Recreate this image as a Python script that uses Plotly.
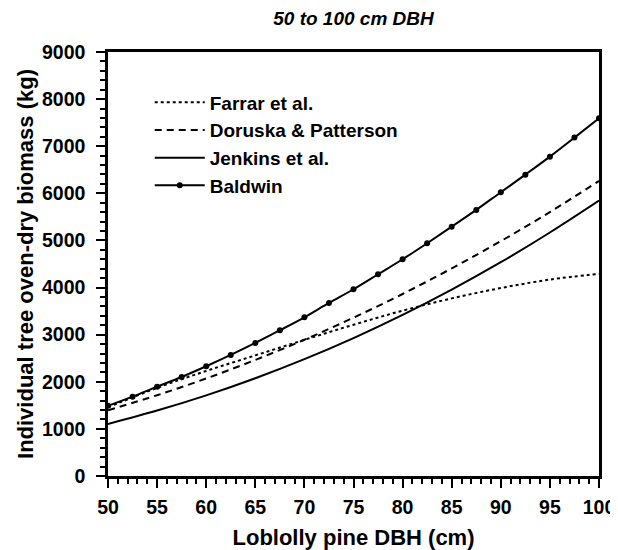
import plotly.graph_objects as go

dbh5 = [50, 55, 60, 65, 70, 75, 80, 85, 90, 95, 100]
dbh_baldwin = [50, 52.5, 55, 57.5, 60, 62.5, 65, 67.5, 70, 72.5, 75, 77.5,
               80, 82.5, 85, 87.5, 90, 92.5, 95, 97.5, 100]

farrar = [1460, 1870, 2230, 2560, 2890, 3210, 3510, 3770, 3990, 4170, 4290]
doruska = [1395, 1715, 2070, 2464, 2892, 3361, 3863, 4407, 4985, 5602, 6263]
jenkins = [1104, 1389, 1711, 2075, 2480, 2927, 3419, 3956, 4538, 5169, 5846]
baldwin = [1490, 1684, 1896, 2102, 2329, 2569, 2824, 3093, 3369, 3673, 3964,
           4282, 4601, 4941, 5293, 5648, 6023, 6397, 6779, 7183, 7594]

FONT = "Liberation Sans, Arial, sans-serif"

fig = go.Figure()
fig.add_trace(go.Scatter(x=dbh5, y=farrar, mode="lines", name="Farrar et al.",
                         line=dict(color="black", width=2, dash="dot", shape="spline")))
fig.add_trace(go.Scatter(x=dbh5, y=doruska, mode="lines", name="Doruska & Patterson",
                         line=dict(color="black", width=2, dash="7px,5px", shape="spline")))
fig.add_trace(go.Scatter(x=dbh5, y=jenkins, mode="lines", name="Jenkins et al.",
                         line=dict(color="black", width=2, shape="spline")))
fig.add_trace(go.Scatter(x=dbh_baldwin, y=baldwin, mode="lines+markers", name="Baldwin",
                         line=dict(color="black", width=2, shape="spline"),
                         marker=dict(color="black", size=6)))

axis_common = dict(
    showline=True, linecolor="black", linewidth=2.5, mirror=True,
    ticks="outside", tickcolor="black", tickwidth=2, ticklen=9,
    showgrid=False, zeroline=False, automargin=False,
    tickfont=dict(family=FONT, size=19.5, color="black", weight="bold"),
)

fig.update_xaxes(range=[50, 100], tick0=50, dtick=5, ticklabelstandoff=3,
                 minor=dict(dtick=1, ticks="outside", ticklen=5, tickwidth=2, tickcolor="black"),
                 title=dict(text="Loblolly pine DBH (cm)", standoff=15,
                            font=dict(family=FONT, size=22, color="black", weight="bold")),
                 **axis_common)
fig.update_yaxes(range=[0, 9000], tick0=0, dtick=1000, ticklabelstandoff=7,
                 minor=dict(dtick=200, ticks="outside", ticklen=5, tickwidth=2, tickcolor="black"),
                 title=dict(text="Individual tree oven-dry biomass (kg)", standoff=3,
                            font=dict(family=FONT, size=22, color="black", weight="bold")),
                 **axis_common)

fig.update_layout(
    width=610, height=542,
    margin=dict(l=100, r=19, t=44, b=74, autoexpand=False),
    paper_bgcolor="white", plot_bgcolor="white",
    title=dict(text="<i>50 to 100 cm DBH</i>", x=0.5, xref="paper", xanchor="center",
               y=1 - 10 / 542, yref="container", yanchor="middle",
               font=dict(family=FONT, size=19, color="black", weight="bold")),
    legend=dict(x=0.085, y=0.926, xanchor="left", yanchor="top",
                bgcolor="rgba(0,0,0,0)", itemwidth=50,
                font=dict(family=FONT, size=19, color="black", weight="bold")),
)

fig.write_html("out.html")
